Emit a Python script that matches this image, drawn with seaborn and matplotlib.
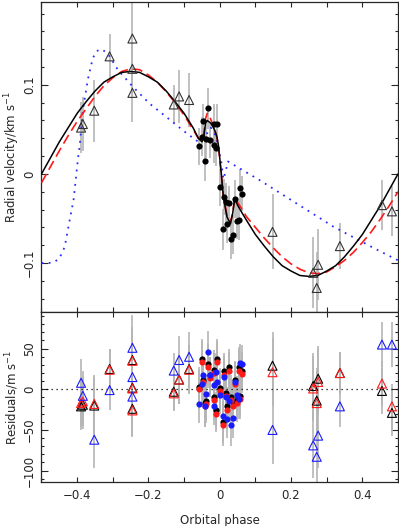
import matplotlib
matplotlib.use("Agg")
import matplotlib.pyplot as plt
from matplotlib.ticker import MultipleLocator
import seaborn as sns
import pandas as pd

# RV points from other spectrographs (open triangles)
tri_phase = [-0.389, -0.384, -0.352, -0.309, -0.245, -0.245, -0.245, -0.129, -0.114, -0.086,
             0.148, 0.262, 0.272, 0.276, 0.337, 0.455, 0.483]
tri_rv = [0.052, 0.056, 0.071, 0.132, 0.152, 0.118, 0.091, 0.078, 0.087, 0.083,
          -0.065, -0.111, -0.128, -0.102, -0.081, -0.035, -0.042]
tri_err = [0.029, 0.030, 0.035, 0.025, 0.040, 0.030, 0.033, 0.022, 0.030, 0.030,
           0.042, 0.040, 0.040, 0.040, 0.026, 0.028, 0.028]
tri_res_black = [-21, -19, -20, 25, 36, 2, -24, -3, 12, 25, 29, 4, -14, 13, 20, -2, -29]
tri_res_red = [-17, -15, -18, 24, 35, 1, -26, -5, 12, 24, 21, 1, -17, 9, 20, 7, -21]
tri_res_blue = [8, -8, -62, -1, 51, 15, -9, 23, 36, 40, -50, -69, -83, -57, -21, 55, 55]

# in-transit RVs (filled circles)
circ_phase = [-0.058, -0.051, -0.047, -0.042, -0.039, -0.033, -0.026, -0.017, -0.017, -0.011,
              -0.009, 0.002, 0.008, 0.011, 0.017, 0.021, 0.026, 0.031, 0.036, 0.042,
              0.049, 0.053, 0.056, 0.063]
circ_rv = [0.031, 0.042, 0.059, 0.014, 0.039, 0.074, 0.038, 0.056, 0.033, 0.029,
           0.056, -0.015, -0.062, -0.026, -0.032, -0.056, -0.033, -0.073, -0.068, -0.028,
           -0.053, -0.052, -0.016, -0.022]
circ_err = [0.021, 0.022, 0.020, 0.022, 0.021, 0.023, 0.020, 0.022, 0.021, 0.020,
            0.022, 0.021, 0.023, 0.020, 0.022, 0.021, 0.020, 0.023, 0.022, 0.021,
            0.020, 0.022, 0.021, 0.020]
circ_res_black = [3, 37, 12, -17, -14, 31, 17, -9, 24, -26, 37, 2, -40, 22, -4, -21, 27, -9, -16, 11,
                  -13, 27, -8, 23]
circ_res_red = [0, 34, 9, -21, -18, 28, 14, -13, 20, -30, 34, -2, -44, 18, -8, -25, 23, -13, -20, 7,
                -17, 23, -12, 19]
circ_res_blue = [-18, 6, 17, -21, -6, 46, 17, 5, -20, 21, 9, -7, -33, 15, -9, -36, -14, -44, -35, 9,
                 -7, -12, 32, 31]

# model curves
black_phase = [-0.5, -0.475, -0.45, -0.425, -0.4, -0.375, -0.35, -0.325, -0.3, -0.275, -0.25,
               -0.225, -0.2, -0.175, -0.15, -0.125, -0.1, -0.075, -0.06, -0.05, -0.045, -0.04,
               -0.035, -0.025, -0.015, -0.008, -0.004, 0.0, 0.005, 0.01, 0.02, 0.03, 0.036,
               0.042, 0.05, 0.06, 0.075, 0.1, 0.125, 0.15, 0.175, 0.2, 0.225, 0.25, 0.275,
               0.3, 0.325, 0.35, 0.375, 0.4, 0.425, 0.45, 0.475, 0.5]
black_rv = [0.0, 0.018, 0.036, 0.052, 0.068, 0.081, 0.093, 0.103, 0.109, 0.114, 0.115,
            0.114, 0.109, 0.103, 0.093, 0.081, 0.068, 0.052, 0.040, 0.036, 0.040, 0.057,
            0.060, 0.057, 0.050, 0.042, 0.033, 0.018, -0.002, -0.025, -0.048, -0.056, -0.045,
            -0.028, -0.035, -0.042, -0.052, -0.068, -0.081, -0.093, -0.103, -0.109, -0.114, -0.115, -0.114,
            -0.109, -0.103, -0.093, -0.081, -0.068, -0.052, -0.036, -0.018, 0.0]
red_phase = [-0.5, -0.475, -0.45, -0.425, -0.4, -0.375, -0.35, -0.325, -0.3, -0.275, -0.25,
             -0.225, -0.2, -0.175, -0.15, -0.125, -0.1, -0.075, -0.06, -0.05, -0.045, -0.04,
             -0.035, -0.03, -0.02, -0.01, -0.004, 0.0, 0.005, 0.01, 0.02, 0.03, 0.036,
             0.042, 0.05, 0.06, 0.075, 0.1, 0.125, 0.15, 0.175, 0.2, 0.225, 0.25, 0.275,
             0.3, 0.325, 0.35, 0.375, 0.4, 0.425, 0.45, 0.475, 0.5]
red_rv = [-0.010, 0.008, 0.026, 0.043, 0.059, 0.073, 0.087, 0.099, 0.108, 0.115, 0.118,
          0.117, 0.111, 0.103, 0.092, 0.080, 0.066, 0.050, 0.040, 0.038, 0.045, 0.062,
          0.068, 0.066, 0.056, 0.044, 0.033, 0.016, -0.004, -0.025, -0.046, -0.054, -0.044,
          -0.027, -0.032, -0.038, -0.048, -0.060, -0.072, -0.083, -0.093, -0.101, -0.107, -0.111, -0.112,
          -0.110, -0.104, -0.097, -0.088, -0.077, -0.065, -0.051, -0.036, -0.020]
blue_phase = [-0.5, -0.48, -0.465, -0.45, -0.435, -0.421, -0.41, -0.398, -0.393, -0.384, -0.37,
              -0.356, -0.345, -0.332, -0.32, -0.309, -0.286, -0.244, -0.197, -0.15, -0.094,
              -0.06, -0.045, -0.025, -0.015, -0.005, 0.005, 0.01, 0.016, 0.023, 0.112,
              0.215, 0.318, 0.431, 0.5]
blue_rv = [-0.100, -0.100, -0.099, -0.095, -0.082, -0.052, -0.029, 0.016, 0.031, 0.072, 0.106,
           0.130, 0.138, 0.140, 0.137, 0.132, 0.117, 0.098, 0.079, 0.064, 0.046,
           0.036, 0.040, 0.052, 0.046, 0.032, 0.012, -0.006, 0.002, 0.014, -0.007,
           -0.033, -0.059, -0.083, -0.097]

sns.set_style("ticks")
plt.rcParams["font.family"] = ["DejaVu Sans"]
plt.rcParams["font.size"] = 8.5

fig = plt.figure(figsize=(3.99, 5.26), dpi=100)
ax1 = fig.add_axes([0.104, 0.4068, 0.8935, 0.5894])
ax2 = fig.add_axes([0.104, 0.0837, 0.8935, 0.3231], sharex=ax1)

err_kw = dict(fmt="none", ecolor="#b5b5b5", elinewidth=1.2, capsize=0, zorder=1)

# top panel
ax1.errorbar(tri_phase, tri_rv, yerr=tri_err, **err_kw)
ax1.errorbar(circ_phase, circ_rv, yerr=circ_err, **err_kw)

sns.lineplot(x=blue_phase, y=blue_rv, ax=ax1, color="#2a2aff", lw=1.3, linestyle=(0, (1, 3)),
             sort=False, estimator=None, zorder=3)
sns.lineplot(x=red_phase, y=red_rv, ax=ax1, color="#ff1a1a", lw=1.2, linestyle=(0, (6, 3)),
             sort=False, estimator=None, zorder=3)
sns.lineplot(x=black_phase, y=black_rv, ax=ax1, color="k", lw=1.1,
             sort=False, estimator=None, zorder=4)

sns.scatterplot(x=tri_phase, y=tri_rv, ax=ax1, marker="^", s=42, facecolor="none",
                edgecolor="#333333", linewidth=0.8, zorder=5)
sns.scatterplot(x=circ_phase, y=circ_rv, ax=ax1, marker="o", s=20, color="k",
                edgecolor="k", linewidth=0, zorder=5)

# residual panel
tri_df = pd.DataFrame({"phase": tri_phase, "black": tri_res_black, "red": tri_res_red,
                       "blue": tri_res_blue, "err": [e * 1000 for e in tri_err]})
circ_df = pd.DataFrame({"phase": circ_phase, "black": circ_res_black, "red": circ_res_red,
                        "blue": circ_res_blue, "err": [e * 1000 + 3 for e in circ_err]})
for col in ["black", "red", "blue"]:
    ax2.errorbar(tri_df["phase"], tri_df[col], yerr=tri_df["err"], **err_kw)
    ax2.errorbar(circ_df["phase"], circ_df[col], yerr=circ_df["err"], **err_kw)

ax2.axhline(0, color="k", lw=0.9, linestyle=(0, (1, 3)), zorder=2)

colours = {"black": "k", "red": "#ff1a1a", "blue": "#1a1aff"}
for i, col in enumerate(["black", "red", "blue"]):
    sns.scatterplot(data=tri_df, x="phase", y=col, ax=ax2, marker="^", s=42, facecolor="none",
                    edgecolor=colours[col], linewidth=0.8, zorder=3 + i)
    sns.scatterplot(data=circ_df, x="phase", y=col, ax=ax2, marker="o", s=20, color=colours[col],
                    edgecolor=colours[col], linewidth=0, zorder=3 + i)

# axes cosmetics
ax1.set_xlim(-0.5, 0.5)
ax1.set_ylim(-0.155, 0.193)
ax2.set_ylim(-114, 95)

for ax in (ax1, ax2):
    for sp in ax.spines.values():
        sp.set_linewidth(0.9)
    ax.xaxis.set_major_locator(MultipleLocator(0.2))
    ax.xaxis.set_minor_locator(MultipleLocator(0.1))
    ax.tick_params(axis="both", which="both", direction="in", top=True, right=True, width=0.8)
    ax.tick_params(axis="x", which="both", length=3.8, pad=5)
    ax.tick_params(axis="y", which="major", length=5, pad=4)
    ax.tick_params(axis="y", which="minor", length=2.5)
    ax.set_xlabel("")
    ax.set_ylabel("")

ax1.yaxis.set_major_locator(MultipleLocator(0.1))
ax1.yaxis.set_minor_locator(MultipleLocator(0.02))
ax2.yaxis.set_major_locator(MultipleLocator(50))
ax2.yaxis.set_minor_locator(MultipleLocator(10))
ax1.set_yticks([-0.1, 0, 0.1])
ax1.set_yticklabels(["\u22120.1", "0", "0.1"], rotation=90, va="center")
ax2.set_yticks([-100, -50, 0, 50])
ax2.set_yticklabels(["\u2212100", "\u221250", "0", "50"], rotation=90, va="center")
ax2.set_xticks([-0.4, -0.2, 0, 0.2, 0.4])
ax2.set_xticklabels(["\u22120.4", "\u22120.2", "0", "0.2", "0.4"])
ax1.tick_params(axis="x", labelbottom=False)
ax1.set_xlim(-0.5, 0.5)

ax1.set_ylabel("Radial velocity/km s$^{-1}$", va="center")
ax2.set_ylabel("Residuals/m s$^{-1}$", va="center")
ax1.yaxis.set_label_coords(-0.083, 0.5)
ax2.yaxis.set_label_coords(-0.083, 0.5)
ax2.set_xlabel("Orbital phase")
ax2.xaxis.set_label_coords(0.5, -0.225)
ax2.xaxis.label.set_va("center")

fig.savefig("out.png", dpi=100)
